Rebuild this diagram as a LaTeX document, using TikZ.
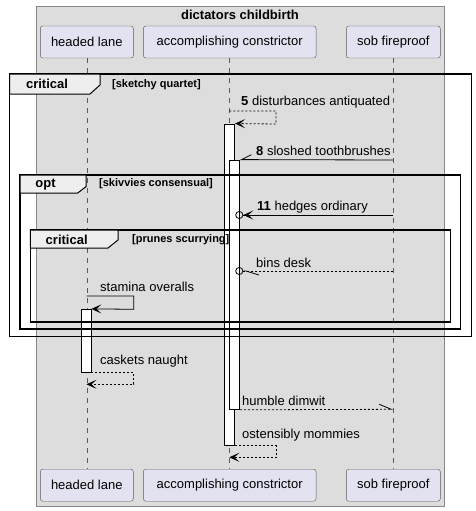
\documentclass[tikz,border=0pt]{standalone}
\usepackage{fontspec}
\setmainfont{Liberation Sans}
\definecolor{groupgray}{RGB}{221, 221, 221}
\definecolor{groupline}{RGB}{136, 136, 136}
\definecolor{partfill}{RGB}{226, 226, 240}
\definecolor{partline}{RGB}{90, 90, 90}
\definecolor{tabfill}{RGB}{238, 238, 238}
\definecolor{lifegray}{RGB}{90, 90, 90}
\usetikzlibrary{arrows.meta, positioning}

\tikzset{
  part/.style={draw=partline, fill=partfill, rounded corners=2.5pt, font=\fontsize{13}{15}\selectfont, minimum height=32pt, inner sep=0pt},
  life/.style={draw=lifegray, line width=0.5pt, dash pattern=on 5pt off 5pt},
  actbar/.style={draw=black, fill=white, line width=0.9pt, minimum width=10pt, inner sep=0pt},
  msg/.style={draw=black, line width=0.8pt, -{Stealth[length=10pt, width=9pt, inset=5pt]}},
  ret/.style={msg, dash pattern=on 2pt off 2pt},
  lbl/.style={anchor=west, font=\fontsize{13}{15}\selectfont, inner sep=0pt},
  framebox/.style={draw=black, line width=1.4pt},
  tabbox/.style={draw=black, fill=tabfill, line width=1pt},
  guard/.style={anchor=west, font=\fontsize{11}{13}\selectfont\bfseries, inner sep=0pt}
}

\begin{document}
\begin{tikzpicture}[x=1pt, y=-1pt]
  \useasboundingbox (0,0) rectangle (475,511);

  % Box
  \draw[fill=groupgray, draw=groupline, line width=0.8pt] (36.3,6) rectangle (444.7,506);
  \node[font=\fontsize{13}{15}\selectfont\bfseries] (title) at (240,15) {dictators childbirth};

  % Participants
  \node[part, minimum width=93pt] (headT) at (86.8,42) {headed lane};
  \node[part, minimum width=172.7pt] (accT) at (229.7,42) {accomplishing constrictor};
  \node[part, minimum width=94pt] (sobT) at (393.3,42) {sob fireproof};
  \node[part, minimum width=93pt] (headB) at (86.8,485.2) {headed lane};
  \node[part, minimum width=172.7pt] (accB) at (229.7,485.2) {accomplishing constrictor};
  \node[part, minimum width=94pt] (sobB) at (393.3,485.2) {sob fireproof};

  \draw[life] (headT) -- (headB);
  \draw[life] (accT) -- (accB);
  \draw[life] (sobT) -- (sobB);

  % Activations
  \node[actbar, minimum height=321pt] (actA) at (229.6,284.5) {};
  \node[actbar, minimum height=249.3pt] (actB) at (234.3,284.7) {};
  \node[actbar, minimum height=63pt, minimum width=9.3pt] (actH) at (86.3,340.8) {};

  % Frames
  \draw[framebox] (9.7,74) rectangle (471.3,336.7);
  \draw[tabbox] (9.7,74) -- (100,74) -- (100,85) -- (90,94) -- (9.7,94) -- cycle;
  \node[font=\fontsize{13}{15}\selectfont\bfseries] (crit1) at (47,84) {critical};
  \node[guard] (g1) at (112,85) {[sketchy quartet]};

  \draw[framebox] (20,175) rectangle (460.7,329);
  \draw[tabbox] (20,175) -- (86,175) -- (86,186.7) -- (77.7,193) -- (20,193) -- cycle;
  \node[font=\fontsize{13}{15}\selectfont\bfseries] (opt1) at (45.5,184.5) {opt};
  \node[guard] (g2) at (99,184) {[skivvies consensual]};

  \draw[framebox] (30.3,230) rectangle (450.7,322);
  \draw[tabbox] (30.3,230) -- (118,230) -- (118,240) -- (108,248) -- (30.3,248) -- cycle;
  \node[font=\fontsize{13}{15}\selectfont\bfseries] (crit2) at (66.7,239.5) {critical};
  \node[guard] (g3) at (132,240) {[prunes scurrying]};

  % Messages
  \coordinate (m5s) at (229.3,111);
  \coordinate (m5c) at (276,124);
  \draw[ret] (m5s) -| (m5c) -- (actA.north east);
  \node[lbl] (t5) at (241,102) {\textbf{5} disturbances antiquated};

  \coordinate (m8s) at (393.3,160);
  \draw[draw=black, line width=0.8pt, -{Straight Barb[harpoon, swap, length=10pt, width=10pt]}] (m8s) -- (actB.north east);
  \node[lbl] (t8) at (256,151) {\textbf{8} sloshed toothbrushes};

  \coordinate (m11s) at (393.3,215);
  \coordinate (m11e) at (235.3,215);
  \draw[draw=black, line width=0.8pt, -{Stealth[length=10pt, width=9pt, inset=5pt] Circle[open, length=8pt, width=8pt]}] (m11s) -- (m11e);
  \node[lbl] (t11) at (257,207) {\textbf{11} hedges ordinary};

  \coordinate (m12s) at (393.3,271);
  \coordinate (m12e) at (235.3,271);
  \draw[draw=black, line width=0.8pt, dash pattern=on 2pt off 2pt, -{Straight Barb[harpoon, length=13pt, width=8pt] Circle[open, length=8pt, width=8pt]}] (m12s) -- (m12e);
  \node[lbl] (t12) at (256,263) {bins desk};

  \coordinate (m13s) at (86.5,296);
  \coordinate (m13c) at (133.7,309.3);
  \draw[msg] (m13s) -| (m13c) -- (actH.north east);
  \node[lbl] (t13) at (100,287) {stamina overalls};

  \coordinate (m14c) at (133.7,384.3);
  \coordinate (m14e) at (86.5,384.3);
  \draw[ret] (actH.south east) -| (m14c) -- (m14e);
  \node[lbl] (t14) at (100,361) {caskets naught};

  \coordinate (m15e) at (393.3,409.3);
  \draw[draw=black, line width=0.8pt, dash pattern=on 2pt off 2pt, -{Straight Barb[harpoon, length=12pt, width=10pt]}] (actB.south east) -- (m15e);
  \node[lbl] (t15) at (242,400.7) {humble dimwit};

  \coordinate (m16c) at (276,457.3);
  \coordinate (m16e) at (229.3,457.3);
  \draw[ret] (actA.south east) -| (m16c) -- (m16e);
  \node[lbl] (t16) at (242,435) {ostensibly mommies};
\end{tikzpicture}
\end{document}
